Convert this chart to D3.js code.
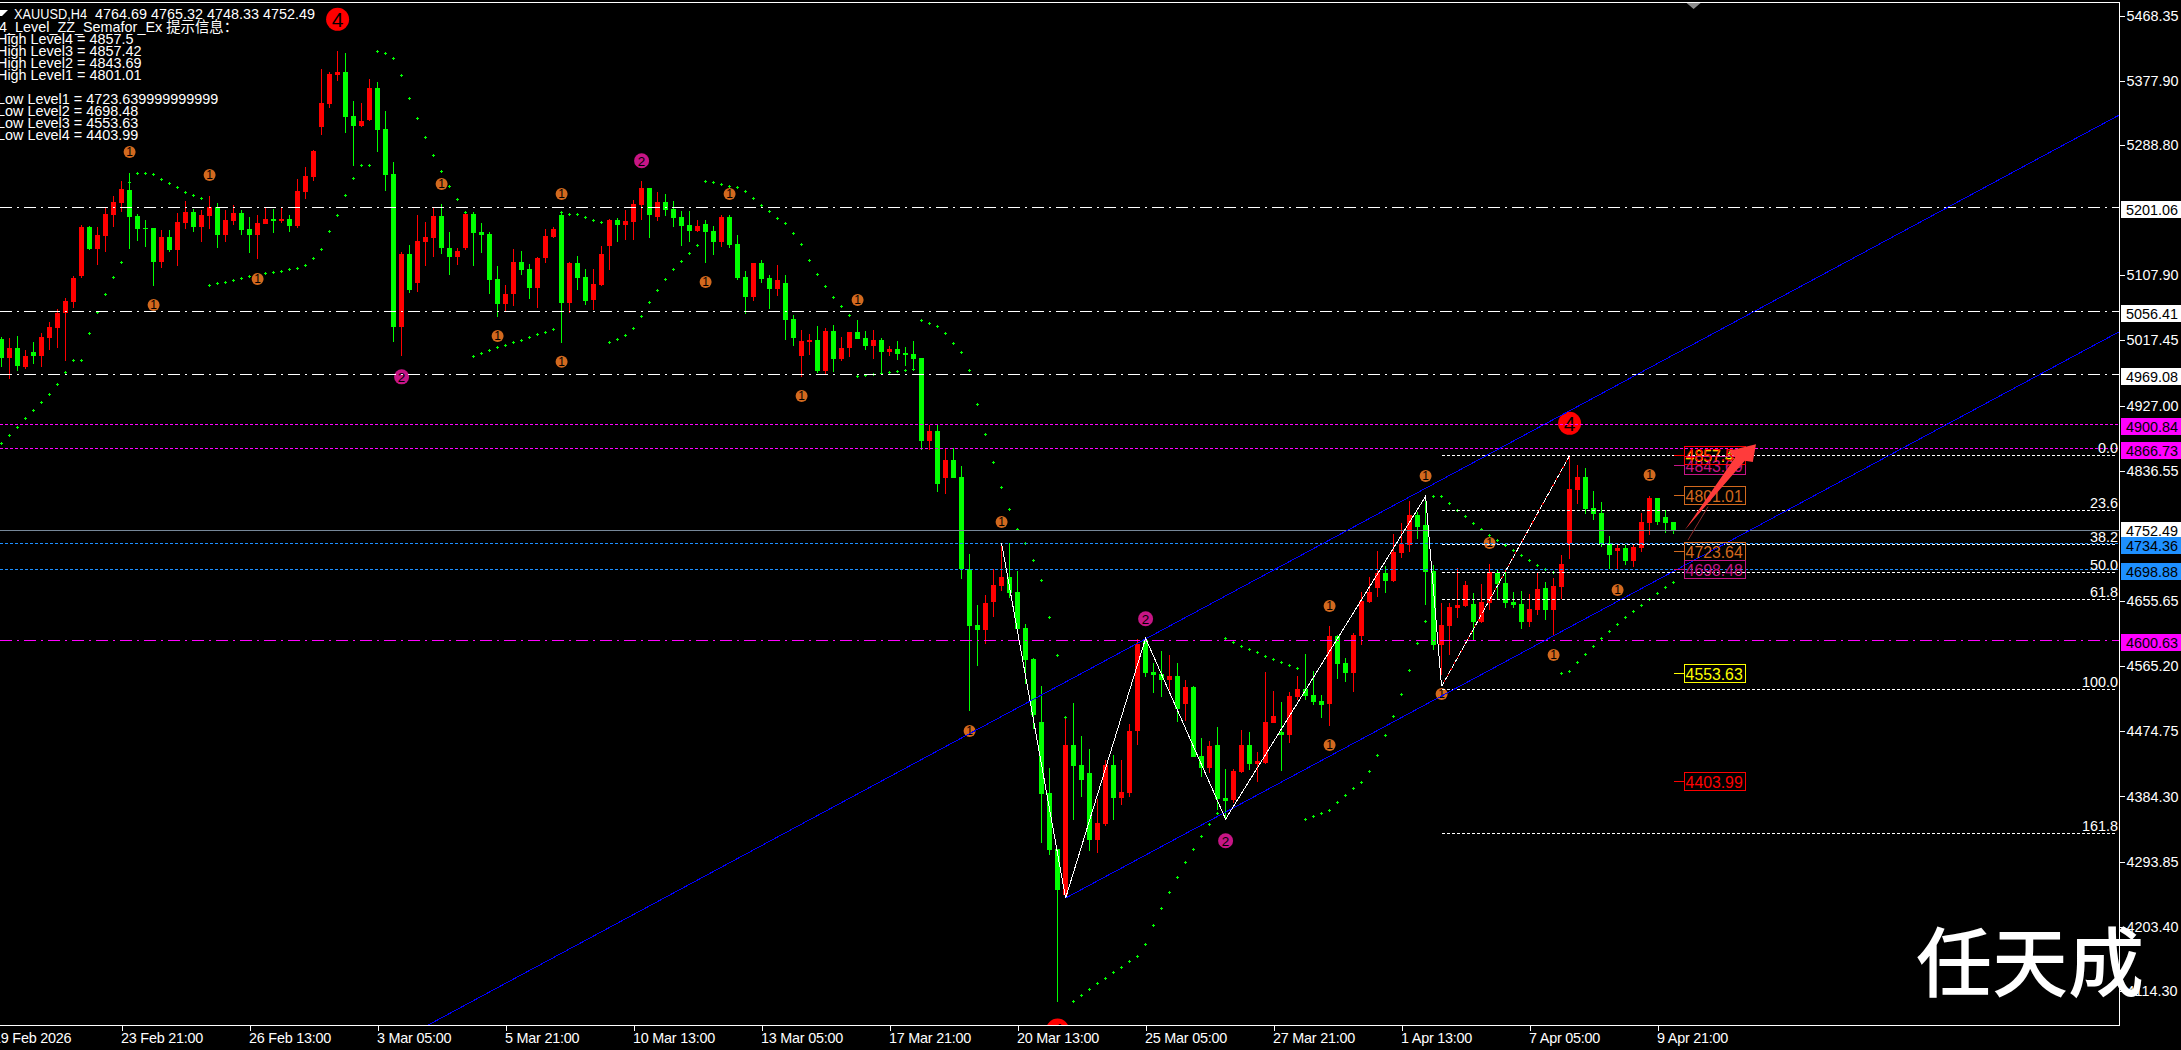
<!DOCTYPE html>
<html><head><meta charset="utf-8">
<style>
html,body{margin:0;padding:0;background:#000;overflow:hidden}
svg{display:block}
text{font-family:"Liberation Sans","Noto Sans CJK SC",sans-serif}
</style>
<script src="https://cdn.jsdelivr.net/npm/d3@7/dist/d3.min.js"></script>
</head><body><svg id="c" width="2181" height="1050"></svg>
<script>
const highs=[5022.5,5020.2,5023.5,5004.0,5015.1,5027.2,5043.4,5060.5,5075.8,5106.8,
5177.4,5176.1,5175.2,5200.7,5218.3,5238.2,5249.7,5192.8,5184.5,5173.4,
5170.6,5170.6,5193.7,5210.9,5199.3,5198.4,5217.8,5207.6,5198.4,5205.3,
5198.4,5188.2,5191.4,5200.7,5199.3,5200.7,5191.4,5240.9,5258.5,5281.7,
5394.1,5390.4,5419.1,5416.3,5349.7,5346.9,5380.2,5376.0,5335.8,5265.0,
5139.6,5149.8,5191.4,5182.2,5202.1,5206.7,5167.8,5145.2,5197.0,5195.6,
5180.8,5168.3,5120.6,5094.3,5143.8,5141.0,5122.9,5133.6,5172.0,5174.3,
5197.0,5126.2,5134.5,5116.0,5116.0,5148.4,5185.9,5187.3,5198.4,5212.3,
5238.6,5228.9,5223.3,5220.6,5210.9,5197.0,5197.0,5184.5,5184.5,5176.1,
5191.4,5191.4,5163.7,5113.7,5124.8,5128.9,5108.1,5122.0,5108.1,5052.6,
5031.8,5026.2,5037.3,5034.5,5038.7,5022.1,5029.0,5045.7,5030.4,5031.8,
5020.7,5009.6,5016.5,5008.2,5016.5,4992.9,4899.9,4899.9,4867.5,4867.5,
4843.0,4720.9,4650.1,4663.9,4700.0,4735.7,4735.7,4697.3,4623.4,4576.5,
4537.6,4423.8,4311.4,4495.1,4513.6,4468.2,4450.2,4380.8,4434.9,4441.9,
4434.9,4484.9,4602.9,4602.9,4569.6,4586.2,4580.6,4569.6,4546.0,4537.6,
4465.5,4461.3,4480.7,4422.4,4422.4,4476.6,4473.8,4446.0,4557.1,4530.7,
4515.4,4529.3,4551.5,4582.0,4558.4,4525.1,4620.9,4608.4,4576.5,4611.2,
4668.1,4688.9,4724.8,4704.2,4748.6,4763.9,4794.4,4779.2,4795.8,4705.6,
4652.8,4652.8,4701.0,4683.3,4666.7,4679.2,4707.0,4698.7,4698.7,4668.1,
4669.0,4665.3,4695.9,4681.9,4687.5,4719.5,4857.5,4844.4,4840.2,4808.3,
4793.0,4745.8,4733.4,4733.4,4733.4,4777.8,4801.4,4798.6,4781.9,4765.32];
const lows=[4980.0,4963.8,4975.4,4977.7,4984.6,4980.9,5004.0,5006.8,4989.2,5061.9,
5103.5,5142.8,5122.0,5140.5,5175.2,5196.1,5144.2,5155.3,5147.5,5092.9,
5117.4,5140.5,5121.1,5171.5,5168.3,5154.4,5171.5,5145.6,5154.4,5177.5,
5163.7,5138.2,5130.4,5178.9,5166.0,5179.9,5167.8,5172.9,5213.6,5238.6,
5302.5,5339.5,5377.4,5305.3,5259.4,5314.0,5321.9,5278.9,5224.7,5015.1,
4995.7,5082.7,5084.5,5120.6,5133.6,5137.3,5108.1,5122.0,5142.8,5120.6,
5138.2,5081.8,5050.3,5057.2,5065.1,5108.1,5074.8,5062.8,5125.3,5159.0,
5013.7,5054.9,5087.3,5066.5,5059.6,5092.9,5115.1,5154.4,5156.7,5156.7,
5184.5,5159.5,5183.1,5190.0,5174.8,5148.4,5154.0,5167.8,5124.8,5135.9,
5147.0,5145.6,5101.2,5054.0,5072.1,5097.0,5060.9,5079.0,5017.9,5009.6,
4966.5,4997.1,4972.1,4969.3,4973.5,4988.8,4994.3,5019.3,5004.0,4991.5,
4970.7,4995.7,4990.1,4981.8,4976.3,4865.2,4865.2,4807.4,4804.2,4826.4,
4686.2,4503.0,4565.4,4595.9,4633.4,4669.5,4659.8,4615.4,4540.4,4478.0,
4319.7,4303.1,4099.5,4242.9,4351.6,4384.0,4308.6,4305.9,4343.3,4351.6,
4372.5,4383.6,4455.7,4550.1,4527.5,4522.4,4532.1,4487.6,4489.0,4439.1,
4411.8,4416.9,4365.5,4353.0,4374.8,4416.9,4421.0,4404.4,4429.4,4485.8,
4419.6,4458.5,4518.2,4518.2,4511.3,4493.2,4482.1,4547.4,4543.2,4529.3,
4594.5,4652.8,4661.2,4666.7,4681.9,4715.3,4723.6,4741.7,4650.1,4587.6,
4552.9,4580.6,4632.0,4647.3,4601.5,4624.6,4643.1,4658.9,4645.9,4645.9,
4616.7,4620.0,4636.4,4629.2,4608.4,4658.4,4713.9,4790.3,4776.4,4768.1,
4730.6,4700.0,4698.7,4705.6,4702.8,4723.6,4747.2,4761.1,4750.0,4748.33];
const opens=[5018.8,4992.9,5006.8,4980.0,5001.3,4995.7,5020.7,5034.5,5054.9,5070.7,
5106.8,5174.8,5144.2,5162.3,5191.4,5208.1,5226.1,5190.0,5173.4,5173.4,
5126.2,5160.9,5142.8,5180.3,5195.6,5174.8,5190.0,5202.5,5163.7,5183.1,
5194.2,5172.0,5163.7,5178.9,5185.9,5183.1,5185.9,5176.1,5223.3,5244.2,
5313.6,5345.5,5385.8,5389.9,5328.9,5315.0,5323.3,5367.7,5310.8,5248.3,
5036.0,5137.3,5097.0,5154.0,5159.5,5190.0,5145.6,5133.1,5145.6,5192.8,
5167.8,5165.1,5102.6,5067.9,5081.8,5126.2,5116.5,5090.1,5131.7,5160.9,
5191.4,5069.3,5124.8,5105.4,5073.4,5094.3,5148.4,5184.5,5177.5,5181.7,
5205.3,5228.9,5188.7,5209.5,5199.8,5188.7,5177.5,5169.2,5178.9,5169.2,
5154.0,5188.7,5151.2,5105.4,5077.6,5124.8,5104.0,5088.7,5097.0,5047.1,
4995.7,5015.1,5017.9,4974.9,5030.4,4991.5,5006.8,5029.0,5020.7,5009.6,
5017.9,5001.3,5005.4,5000.0,4998.5,4992.9,4877.7,4891.6,4826.4,4851.4,
4827.8,4699.6,4622.3,4615.4,4654.2,4676.4,4688.9,4668.1,4618.1,4575.1,
4487.6,4389.1,4311.4,4247.5,4455.7,4427.9,4416.9,4323.9,4346.1,4427.9,
4382.2,4389.1,4475.2,4601.5,4557.1,4554.3,4546.0,4551.5,4512.6,4536.3,
4440.5,4423.8,4455.7,4382.2,4379.4,4418.3,4455.7,4429.4,4430.8,4486.3,
4473.8,4469.6,4522.4,4533.5,4525.1,4516.8,4512.6,4607.0,4569.6,4555.7,
4607.0,4654.2,4673.6,4694.4,4683.3,4722.2,4733.4,4775.0,4761.1,4697.3,
4594.5,4620.9,4645.9,4648.7,4651.5,4626.5,4652.8,4694.5,4680.6,4654.2,
4651.5,4626.5,4643.1,4673.7,4643.1,4675.0,4734.7,4809.7,4827.8,4784.7,
4777.8,4736.1,4725.0,4729.2,4711.1,4729.2,4763.9,4798.6,4772.2,4764.69];
const closes=[4992.9,5006.8,4981.8,4996.1,4995.7,5022.1,5036.0,5055.9,5071.6,5104.0,
5175.2,5144.2,5163.7,5192.8,5209.5,5227.5,5188.7,5172.0,5172.0,5126.2,
5160.9,5142.8,5181.7,5195.6,5174.8,5191.4,5202.5,5163.7,5184.5,5194.2,
5170.6,5163.7,5180.3,5185.9,5183.1,5185.9,5176.1,5224.7,5245.6,5280.3,
5346.9,5387.1,5389.9,5327.5,5315.0,5321.9,5367.7,5309.4,5246.9,5036.0,
5137.3,5087.3,5155.3,5160.9,5190.0,5145.6,5133.1,5141.5,5192.8,5166.4,
5163.7,5101.2,5067.9,5081.8,5126.2,5115.1,5090.1,5131.7,5162.3,5172.0,
5069.3,5124.8,5104.0,5072.1,5095.7,5137.3,5184.5,5177.5,5183.1,5206.7,
5228.9,5191.4,5209.5,5198.4,5187.3,5176.1,5169.2,5176.1,5167.8,5154.0,
5188.7,5149.8,5104.0,5077.6,5124.8,5102.6,5088.7,5101.2,5045.7,5020.7,
5016.5,5017.9,4974.9,5030.4,4991.5,5006.8,5029.0,5019.3,5009.6,5017.9,
5001.3,5005.4,4998.5,4997.1,4991.5,4877.7,4891.6,4818.0,4851.4,4826.4,
4699.6,4620.9,4615.4,4652.8,4677.8,4688.9,4666.7,4616.7,4573.7,4497.4,
4387.7,4310.0,4254.5,4455.7,4426.6,4407.1,4323.9,4347.5,4427.9,4382.2,
4390.5,4475.2,4595.9,4555.7,4552.9,4546.0,4551.5,4505.7,4536.3,4439.1,
4423.8,4454.3,4380.8,4378.0,4419.6,4455.7,4429.4,4433.5,4487.6,4496.0,
4469.6,4523.7,4533.5,4523.7,4515.4,4511.3,4607.0,4568.2,4555.7,4608.4,
4655.6,4668.1,4694.4,4683.3,4723.6,4734.7,4775.0,4758.3,4695.9,4594.5,
4622.3,4647.3,4650.1,4677.8,4626.5,4654.2,4695.9,4679.2,4652.8,4650.1,
4626.5,4644.5,4672.3,4643.1,4676.4,4707.0,4811.1,4827.8,4783.3,4776.4,
4734.7,4719.5,4729.2,4711.1,4730.6,4765.3,4798.6,4765.3,4763.9,4752.49];
const sar=[4874.5,4885.6,4896.7,4909.2,4920.3,4931.4,4942.5,4956.4,4973.0,4989.7,
4989.7,5027.2,5057.2,5081.3,5104.9,5126.7,5237.7,5249.3,5249.3,5247.9,
5241.0,5235.4,5229.8,5223.8,5218.7,5214.6,5093.8,5096.6,5098.9,5100.7,
5103.5,5106.3,5107.7,5110.5,5111.8,5114.2,5116.0,5117.4,5122.5,5131.3,
5143.8,5168.8,5191.0,5218.7,5242.3,5260.4,5260.4,5418.6,5415.8,5408.9,
5385.3,5353.4,5325.6,5299.2,5274.2,5252.0,5231.2,5213.2,5195.1,4996.1,
5000.3,5004.5,5007.7,5011.4,5015.6,5018.4,5021.6,5025.8,5029.5,5032.7,
5195.1,5192.3,5192.3,5188.2,5184.9,5181.2,5014.7,5018.8,5025.3,5035.0,
5050.8,5070.2,5086.9,5102.1,5116.0,5127.1,5138.2,5149.3,5238.2,5236.8,
5234.0,5231.2,5229.8,5224.3,5214.6,5204.8,5196.5,5186.8,5179.9,5166.0,
5150.7,5128.5,5109.1,5092.4,5077.1,5064.6,5052.2,4967.5,4968.9,4970.3,
4971.7,4973.0,4974.4,4975.8,4977.2,5045.2,5041.0,5036.9,5027.2,5013.3,
5000.8,4975.8,4928.6,4887.0,4848.1,4813.4,4782.9,4755.1,4735.7,4712.1,
4684.3,4633.0,4580.2,4494.2,4099.9,4108.2,4116.5,4124.9,4131.8,4140.2,
4147.1,4155.5,4162.4,4179.1,4205.5,4229.0,4251.3,4272.1,4292.9,4310.9,
4329.0,4345.6,4360.9,4603.8,4598.7,4592.7,4588.5,4584.4,4578.8,4574.7,
4570.5,4566.3,4562.2,4352.5,4356.7,4360.9,4365.1,4376.2,4385.9,4395.6,
4403.9,4419.2,4441.4,4469.2,4495.5,4526.1,4559.4,4596.9,4627.4,4800.9,
4800.9,4791.2,4781.5,4773.2,4763.4,4755.1,4746.8,4739.8,4732.9,4726.0,
4719.0,4712.1,4705.1,4699.6,4695.4,4555.2,4558.0,4570.5,4581.6,4592.7,
4603.8,4613.5,4623.2,4633.0,4641.3,4649.6,4657.9,4666.2,4674.6,4681.5];

const priceTicks=[5468.35,5377.90,5288.80,5107.90,5017.45,4927.00,4836.55,4655.65,4565.20,4474.75,4384.30,4293.85,4203.40,4114.30];
const timeBars=[-1,15,31,47,63,79,95,111,127,143,159,175,191,207];
const timeLabels=["19 Feb 2026","23 Feb 21:00","26 Feb 13:00","3 Mar 05:00","5 Mar 21:00","10 Mar 13:00","13 Mar 05:00","17 Mar 21:00","20 Mar 13:00","25 Mar 05:00","27 Mar 21:00","1 Apr 13:00","7 Apr 05:00","9 Apr 21:00"];

const whiteLevels=[5201.06,5056.41,4969.08];
const magentaDotLevels=[4900.84,4866.73];
const magentaDashLevels=[4600.63];
const blueLevels=[4734.36,4698.88];
const bidPrice=4752.49;

const fibHigh=4857.5, fibLow=4533.0, fibStartBar=180;
const fibPercents=[0,23.6,38.2,50,61.8,100,161.8];
const fibNames=["0.0","23.6","38.2","50.0","61.8","100.0","161.8"];

const zigzagBars=[125,133,143,153,178,180];
const zigzagPrices=[4735.7,4243.3,4603.8,4353.0,4801.0,4537.0];
const lastLegBars=[180,196];
const lastLegPrices=[4537.0,4857.5];

const channelLowerBars=[133,264.7], channelLowerPrices=[4243.3,5029.4];
const channelUpperBars=[53.3,264.7], channelUpperPrices=[4067.0,5330.2];

const sema1Bars=[16,26,19,32,55,62,70,70,88,91,107,100,125,121,166,166,178,180,186,194,202,206];
const sema1Prices=[5278.9,5246.9,5066.5,5102.6,5234.5,5023.5,5220.6,4987.8,5098.4,5220.6,5073.4,4940.2,4765.3,4475.2,4648.7,4455.7,4829.1,4526.5,4736.1,4580.7,4670.9,4830.5];
const sema2Bars=[80,50,143,153];
const sema2Prices=[5266.8,4966.8,4631.1,4322.9];
const sema4Bars=[42,196,132];
const sema4Prices=[5463.1,4902.3,4060.1];

const tagValues=[4857.42,4843.69,4857.5,4801.01,4723.64,4698.48,4553.63,4403.99];
const tagLabels=["4857.42","4843.69","4857.5","4801.01","4723.64","4698.48","4553.63","4403.99"];
const tagColors=["#ffff00","#c71585","#ff0000","#d2691e","#d2691e","#c71585","#ffff00","#ff0000"];

const arrowBars=[210.4,216.7,215.8,219.3,218.9,217.9];
const arrowPrices=[4754.2,4855.1,4863.8,4873.1,4848.6,4850.4];
const arrowShadowBars=[210.8,213.3];
const arrowShadowPrices=[4740.3,4786.5];

const headerLines=["4_Level_ZZ_Semafor_Ex 提示信息：","High Level4 = 4857.5","High Level3 = 4857.42","High Level2 = 4843.69","High Level1 = 4801.01","","Low Level1 = 4723.639999999999","Low Level2 = 4698.48","Low Level3 = 4553.63","Low Level4 = 4403.99"];
const titleSymbol="XAUUSD,H4";
const titleValues="4764.69 4765.32 4748.33 4752.49";

const W=2181,H=1050,plotR=2119,plotB=1025,plotT=2;
const FS=14.4;
const svg=d3.select("#c");
const x=d3.scaleLinear().domain([0,209]).range([1.6,1673.6]);
const y=d3.scaleLinear().domain([5468.35,4114.30]).range([15.5,991]);
const row=v=>Math.floor(y(v)-0.3);
const defs=svg.append("defs");
defs.append("clipPath").attr("id","plot").append("rect").attr("x",0).attr("y",plotT+1).attr("width",plotR).attr("height",plotB-plotT-1);
const plot=svg.append("g").attr("clip-path","url(#plot)");

const UP="#ff0000",DOWN="#00ff00";
const idx=d3.range(opens.length);
const col=i=>closes[i]>=opens[i]?UP:DOWN;
const cg=plot.append("g").attr("shape-rendering","crispEdges");
cg.selectAll("rect.w").data(idx).join("rect").attr("class","w")
  .attr("x",i=>Math.floor(x(i))).attr("width",1)
  .attr("y",i=>Math.round(y(highs[i])))
  .attr("height",i=>Math.max(1,Math.round(y(lows[i]))-Math.round(y(highs[i]))))
  .attr("fill",col);
cg.selectAll("rect.b").data(idx).join("rect").attr("class","b")
  .attr("x",i=>Math.floor(x(i))-2).attr("width",5)
  .attr("y",i=>Math.round(y(Math.max(opens[i],closes[i]))))
  .attr("height",i=>Math.max(1,Math.round(y(Math.min(opens[i],closes[i])))-Math.round(y(Math.max(opens[i],closes[i])))))
  .attr("fill",col);

// parabolic SAR dots
const sg=plot.append("g").attr("shape-rendering","crispEdges").attr("fill","#00ff00");
sg.selectAll("path").data(sar).join("path")
  .attr("d",(d,i)=>{const a=Math.floor(x(i)),b=Math.round(y(d));return `M${a-1} ${b}h3v1h-3zM${a} ${b-1}h1v3h-1z`;});

// semafor markers
function semafor(bars,prices,rx,ry,fill,label,fs){
  const g=plot.append("g");
  const pts=bars.map((b,i)=>[x(b),y(prices[i])]);
  g.selectAll("ellipse").data(pts).join("ellipse")
   .attr("cx",d=>d[0]).attr("cy",d=>d[1]).attr("rx",rx).attr("ry",ry).attr("fill",fill);
  g.selectAll("text").data(pts).join("text")
   .attr("x",d=>d[0]).attr("y",d=>d[1]).attr("dy","0.36em").attr("text-anchor","middle")
   .attr("font-size",fs).attr("fill","#000").text(label);
}
semafor(sema1Bars,sema1Prices,6,6,"#d2691e","1",12);
semafor(sema2Bars,sema2Prices,7.5,7.5,"#c71585","2",13.5);
semafor(sema4Bars,sema4Prices,11.5,11.5,"#ff0000","4",21);

// horizontal lines
const lg=plot.append("g").attr("shape-rendering","crispEdges").attr("fill","none").attr("stroke-width",1);
function hlines(vals,color,dash){
  lg.append("g").selectAll("line").data(vals).join("line")
    .attr("x1",0).attr("x2",plotR)
    .attr("y1",d=>row(d)+0.5).attr("y2",d=>row(d)+0.5)
    .attr("stroke",color).attr("stroke-dasharray",dash);
}
hlines(whiteLevels,"#ffffff","12 5 2 5");
hlines(magentaDashLevels,"#ff00ff","12 5 2 5");
hlines(magentaDotLevels,"#ff00ff","3 2");
hlines(blueLevels,"#1e90ff","3 2");
hlines([bidPrice],"#778899",null);

// fibonacci
const fibPrice=p=>fibHigh-(fibHigh-fibLow)*p/100;
const fg=plot.append("g");
fg.selectAll("line").data(fibPercents).join("line")
  .attr("x1",x(fibStartBar)).attr("x2",plotR-2)
  .attr("y1",p=>row(fibPrice(p))+0.5).attr("y2",p=>row(fibPrice(p))+0.5)
  .attr("stroke","#fff").attr("stroke-dasharray","3 2").attr("shape-rendering","crispEdges");
fg.selectAll("text").data(fibPercents).join("text")
  .attr("x",plotR-1).attr("y",p=>y(fibPrice(p))-8).attr("dy","0.36em").attr("text-anchor","end")
  .attr("fill","#fff").attr("font-size",FS).text((p,i)=>fibNames[i]);

// zigzag and channel
const line=d3.line();
const toPts=(b,p)=>b.map((v,i)=>[x(v),y(p[i])]);
const og=plot.append("g").attr("fill","none").attr("shape-rendering","crispEdges");
og.append("path").attr("d",line(toPts(channelLowerBars,channelLowerPrices))).attr("stroke","#0000ff");
og.append("path").attr("d",line(toPts(channelUpperBars,channelUpperPrices))).attr("stroke","#0000ff");
og.append("path").attr("d",line(toPts(zigzagBars,zigzagPrices))).attr("stroke","#fff").attr("stroke-width",1);
og.append("path").attr("d",line(toPts(lastLegBars,lastLegPrices))).attr("stroke","#ff0000");
og.append("path").attr("d",line(toPts(lastLegBars,lastLegPrices))).attr("stroke","#fff").attr("stroke-dasharray","5 2");

// level tags
const tx=x(210.25),tw=60.5,th=18;
const tg=plot.append("g");
tagValues.forEach((v,i)=>{
  const yy=Math.round(y(v))+(i==2?-0.5:0), c=tagColors[i];
  tg.append("line").attr("x1",tx-10).attr("x2",tx).attr("y1",yy-0.5).attr("y2",yy-0.5).attr("stroke",c).attr("shape-rendering","crispEdges");
  tg.append("rect").attr("x",Math.round(tx)+0.5).attr("y",yy-9.5).attr("width",tw).attr("height",th).attr("fill","none").attr("stroke",c).attr("shape-rendering","crispEdges");
  tg.append("text").attr("x",tx+2).attr("y",yy).attr("dy","0.36em").attr("fill",c).attr("font-size",15.8).text(tagLabels[i]);
});

// drawn arrow
const ag=plot.append("g");
ag.append("path").attr("d",line(toPts(arrowShadowBars,arrowShadowPrices))).attr("stroke","#8b2a2a").attr("fill","none");
ag.append("path").attr("d",line(toPts(arrowBars,arrowPrices))+"Z").attr("fill","#ff3b3b");

// frame
svg.append("g").attr("stroke","#fff").attr("shape-rendering","crispEdges").call(g=>{
  g.append("line").attr("x1",0).attr("x2",plotR+0.5).attr("y1",2.5).attr("y2",2.5);
  g.append("line").attr("x1",plotR+0.5).attr("x2",plotR+0.5).attr("y1",2).attr("y2",plotB+0.5);
  g.append("line").attr("x1",0).attr("x2",plotR+0.5).attr("y1",plotB+0.5).attr("y2",plotB+0.5);
});
// chart-shift marker
svg.append("path").attr("d",d3.line()([[x(211.5)-7,3],[x(211.5)+7,3],[x(211.5),9]])+"Z").attr("fill","#8c8c8c");

// axes
const yAxis=d3.axisRight(y).tickValues(priceTicks).tickFormat(d3.format(".2f")).tickSize(5).tickPadding(2);
const ya=svg.append("g").attr("transform",`translate(${plotR+0.5},0)`).call(yAxis);
ya.select(".domain").remove();
ya.selectAll("line").attr("stroke","#fff").attr("shape-rendering","crispEdges");
ya.selectAll("text").attr("fill","#fff").attr("font-size",FS).attr("font-family",null);
const xAxis=d3.axisBottom(x).tickValues(timeBars).tickFormat((d,i)=>timeLabels[i]).tickSize(5).tickPadding(2);
const xa=svg.append("g").attr("transform",`translate(0,${plotB+0.5})`).call(xAxis);
xa.select(".domain").remove();
xa.selectAll("line").attr("stroke","#fff").attr("shape-rendering","crispEdges");
xa.selectAll("text").attr("fill","#fff").attr("font-size",FS).attr("font-family",null).attr("text-anchor","start").attr("x",-1).style("letter-spacing","-0.25px");

// price labels on axis
function priceBox(v,fill,fg,offset){
  const yy=row(v)+(offset||0);
  svg.append("rect").attr("x",plotR+2).attr("y",yy-6).attr("width",W-plotR-2).attr("height",17).attr("fill",fill);
  svg.append("text").attr("x",plotR+7).attr("y",yy+2.5).attr("dy","0.36em").attr("fill",fg).attr("font-size",FS).text(d3.format(".2f")(v));
}
whiteLevels.forEach(v=>priceBox(v,"#fff","#000"));
magentaDotLevels.forEach(v=>priceBox(v,"#ff00ff","#000"));
magentaDashLevels.forEach(v=>priceBox(v,"#ff00ff","#000"));
priceBox(bidPrice,"#fff","#000",-2);
blueLevels.forEach(v=>priceBox(v,"#1e90ff","#000"));

// header
svg.append("path").attr("d",d3.line()([[0,10],[8,10],[2,16],[0,16]])+"Z").attr("fill","#fff");
svg.append("text").attr("x",14).attr("y",14).attr("dy","0.36em").attr("fill","#fff").attr("font-size",FS).attr("textLength",73).attr("lengthAdjust","spacingAndGlyphs").text(titleSymbol);
svg.append("text").attr("x",95).attr("y",14).attr("dy","0.36em").attr("fill","#fff").attr("font-size",FS).text(titleValues);
svg.append("g").selectAll("text").data(headerLines).join("text")
  .attr("x",(d,i)=>i==0?-1:-3).attr("y",(d,i)=>27+i*12).attr("dy","0.36em").attr("fill","#fff").attr("font-size",FS).text(d=>d);

// watermark
svg.append("text").attr("x",2030).attr("y",991).attr("text-anchor","middle").attr("fill","#fff")
  .attr("font-size",76).attr("font-weight",500).style("font-family",'"Noto Sans CJK SC"').text("任天成");
</script></body></html>
